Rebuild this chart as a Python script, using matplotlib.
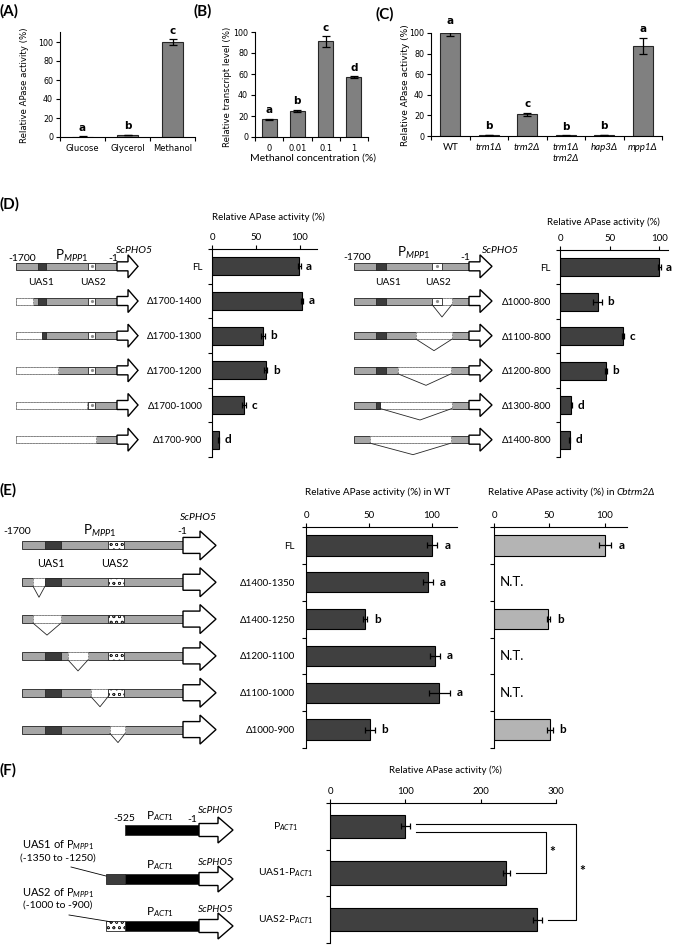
import numpy as np
import matplotlib
matplotlib.use('Agg')
import matplotlib.pyplot as plt
from matplotlib.patches import Rectangle, Polygon
from matplotlib.transforms import blended_transform_factory

W, H = 674, 946
plt.rcParams['font.family'] = ['Lato', 'DejaVu Sans']
plt.rcParams['mathtext.fontset'] = 'custom'
plt.rcParams['mathtext.rm'] = 'Lato'
plt.rcParams['mathtext.it'] = 'Lato:italic'
plt.rcParams['mathtext.bf'] = 'Lato:bold'
plt.rcParams['hatch.linewidth'] = 0.5
plt.rcParams['hatch.color'] = '#303030'

# ---------------- data ----------------
a_cats = ['Glucose', 'Glycerol', 'Methanol']
a_vals = [0.5, 2.0, 100.0]
a_errs = [0.2, 0.3, 3.0]
a_sig = ['a', 'b', 'c']

b_cats = ['0', '0.01', '0.1', '1']
b_vals = [16.8, 24.8, 91.0, 57.2]
b_errs = [0.5, 1.3, 5.0, 0.6]
b_sig = ['a', 'b', 'c', 'd']

c_cats = ['WT', 'trm1Δ', 'trm2Δ', 'trm1Δ\ntrm2Δ', 'hap3Δ', 'mpp1Δ']
c_vals = [100.0, 1.0, 21.0, 0.5, 1.0, 87.5]
c_errs = [3.0, 0.3, 1.8, 0.2, 0.3, 8.0]
c_sig = ['a', 'b', 'c', 'b', 'b', 'a']

d1_labels = ['FL', 'Δ1700-1400', 'Δ1700-1300', 'Δ1700-1200', 'Δ1700-1000', 'Δ1700-900']
d1_vals = [99.5, 102.5, 58.0, 61.0, 36.5, 7.5]
d1_errs = [1.5, 1.5, 2.0, 2.0, 2.0, 0.5]
d1_sig = ['a', 'a', 'b', 'b', 'c', 'd']

d2_labels = ['FL', 'Δ1000-800', 'Δ1100-800', 'Δ1200-800', 'Δ1300-800', 'Δ1400-800']
d2_vals = [100.0, 38.0, 64.0, 46.5, 11.5, 10.0]
d2_errs = [1.5, 4.5, 1.0, 1.0, 0.5, 0.5]
d2_sig = ['a', 'b', 'c', 'b', 'd', 'd']

e_labels = ['FL', 'Δ1400-1350', 'Δ1400-1250', 'Δ1200-1100', 'Δ1100-1000', 'Δ1000-900']
e_wt_vals = [100.5, 97.0, 47.0, 102.5, 106.0, 50.5]
e_wt_errs = [4.0, 4.0, 1.5, 4.0, 8.5, 4.0]
e_wt_sig = ['a', 'a', 'b', 'a', 'a', 'b']
e_cb_vals = [100.5, None, 49.0, None, None, 50.5]   # None = N.T. (not tested)
e_cb_errs = [5.5, None, 1.5, None, None, 2.5]
e_cb_sig = ['a', None, 'b', None, None, 'b']

f_labels = ['P$_{\\mathit{ACT1}}$', 'UAS1-P$_{\\mathit{ACT1}}$', 'UAS2-P$_{\\mathit{ACT1}}$']
f_vals = [100.0, 234.0, 275.0]
f_errs = [6.0, 5.0, 6.0]

# ---------------- figure ----------------
fig = plt.figure(figsize=(W / 100, H / 100), dpi=100)


def px_axes(l, t, r, b):
    return fig.add_axes([l / W, 1 - b / H, (r - l) / W, (b - t) / H])


ov = fig.add_axes([0, 0, 1, 1], zorder=10)
ov.set_xlim(0, W)
ov.set_ylim(H, 0)
ov.axis('off')


def T(x, y, s, size=7.5, ha='center', va='center', **kw):
    ov.text(x, y, s, fontsize=size, ha=ha, va=va, **kw)


VER = 'DejaVu Sans'


def vbar(rect, cats, vals, errs, sig, ylim, yticks, width, xfs, xfam):
    l, t, r, b = rect
    ax = px_axes(l, t, r, b)
    n = len(cats)
    x = np.arange(n)
    ax.bar(x, vals, width, yerr=errs, color='#808080', edgecolor='#262626', linewidth=0.8,
           error_kw=dict(ecolor='black', elinewidth=0.9, capsize=3, capthick=0.9))
    ax.set_xlim(-0.5, n - 0.5)
    ax.set_ylim(*ylim)
    ax.set_yticks(yticks)
    ax.set_xticks(np.arange(n + 1) - 0.5)
    ax.set_xticklabels([])
    ax.set_xticks(x, minor=True)
    ax.set_xticklabels(cats, minor=True, fontsize=xfs, family=xfam)
    ax.tick_params(axis='x', which='major', length=3, width=0.8)
    ax.tick_params(axis='x', which='minor', length=0, pad=5)
    ax.tick_params(axis='y', length=3, width=0.8, labelsize=5.8, pad=2, labelfontfamily=VER)
    for sp in ('top', 'right'):
        ax.spines[sp].set_visible(False)
    for sp in ('left', 'bottom'):
        ax.spines[sp].set_linewidth(0.8)
    for i, (v, e, s) in enumerate(zip(vals, errs, sig)):
        ax.annotate(s, (i, v + e), xytext=(0, 2.5), textcoords='offset points', ha='center',
                    va='bottom', fontsize=7.5, fontweight='bold', family=VER,
                    annotation_clip=False)
    return ax


def hbar(rect, vals, errs, sig, xlim, xticks, color, height, labels=None, lab_pad=7,
         fs=7, sig_off=4):
    l, t, r, b = rect
    ax = px_axes(l, t, r, b)
    n = len(vals)
    idx = [i for i, v in enumerate(vals) if v is not None]
    ax.barh(idx, [vals[i] for i in idx], height=height, xerr=[errs[i] for i in idx],
            color=color, edgecolor='black', linewidth=0.8,
            error_kw=dict(ecolor='black', elinewidth=0.9, capsize=2, capthick=0.9))
    ax.set_ylim(n - 0.5, -0.5)
    ax.set_xlim(*xlim)
    ax.xaxis.tick_top()
    ax.set_xticks(xticks)
    ax.tick_params(axis='x', length=3, width=0.8, labelsize=fs, pad=2)
    ax.set_yticks(np.arange(n + 1) - 0.5)
    ax.set_yticklabels([])
    ax.tick_params(axis='y', which='major', length=3, width=0.8)
    if labels is not None:
        ax.set_yticks(np.arange(n), minor=True)
        ax.set_yticklabels(labels, minor=True)
        ax.tick_params(axis='y', which='minor', length=0, pad=lab_pad, labelsize=fs)
    for sp in ('bottom', 'right'):
        ax.spines[sp].set_visible(False)
    for sp in ('left', 'top'):
        ax.spines[sp].set_linewidth(0.8)
    for i in idx:
        ax.annotate(sig[i], (vals[i] + errs[i], i), xytext=(sig_off, 0), textcoords='offset points',
                    ha='left', va='center', fontsize=8.5, fontweight='bold', annotation_clip=False)
    return ax


# ---------------- (A) (B) (C) ----------------
axA = vbar((60, 32.5, 195, 137), a_cats, a_vals, a_errs, a_sig, (0, 110), range(0, 101, 20), 0.48, 6, VER)
axB = vbar((255, 32, 368, 137), b_cats, b_vals, b_errs, b_sig, (0, 100), range(0, 101, 20), 0.53, 6, VER)
axC = vbar((431, 33, 662, 136), c_cats, c_vals, c_errs, c_sig, (0, 100), range(0, 101, 20), 0.51, 7, 'Lato')
for lbl in axC.get_xticklabels(minor=True):
    if lbl.get_text() != 'WT':
        lbl.set_fontstyle('italic')
    lbl.set_linespacing(1.3)

T(25, 85, 'Relative APase activity (%)', 6.2, rotation=90, family=VER)
T(228, 87, 'Relative transcript level (%)', 6.2, rotation=90, family=VER)
T(405, 85, 'Relative APase activity (%)', 6.5, rotation=90, family=VER)
T(313, 158, 'Methanol concentration (%)', 7.5)

T(0, 11, '(A)', 11, ha='left', weight='bold')
T(193, 11, '(B)', 11, ha='left', weight='bold')
T(376, 14, '(C)', 11, ha='left', weight='bold')
T(0, 204, '(D)', 11, ha='left', weight='bold')
T(0, 490, '(E)', 11, ha='left', weight='bold')
T(0, 770, '(F)', 11, ha='left', weight='bold')

# ---------------- (D) ----------------
axD1 = hbar((212, 249, 317.3, 457), d1_vals, d1_errs, d1_sig, (0, 120), [0, 50, 100], '#404040', 0.52,
            labels=d1_labels, lab_pad=7)
axD2 = hbar((560, 250, 668, 457), d2_vals, d2_errs, d2_sig, (0, 109), [0, 50, 100], '#404040', 0.52,
            labels=d2_labels, lab_pad=6.5)
T(268, 217, 'Relative APase activity (%)', 7)
T(603, 222, 'Relative APase activity (%)', 7)

# ---------------- (E) ----------------
axE1 = hbar((306, 527, 457, 748), e_wt_vals, e_wt_errs, e_wt_sig, (0, 120), [0, 50, 100], '#404040', 0.55,
            labels=e_labels, lab_pad=8, fs=7, sig_off=5)
axE2 = hbar((494, 527, 627, 748), e_cb_vals, e_cb_errs, e_cb_sig, (0, 120), [0, 50, 100], '#b4b4b4', 0.55,
            fs=7, sig_off=5)
for i, v in enumerate(e_cb_vals):
    if v is None:
        axE2.text(5, i, 'N.T.', fontsize=9.5, ha='left', va='center')
T(378, 492, 'Relative APase activity (%) in WT', 7.2)
T(617, 492, 'Relative APase activity (%) in ', 7.2, ha='right')
T(617, 492, 'Cbtrm2Δ', 7.2, ha='left', style='italic')

# ---------------- (F) ----------------
axF = hbar((330, 803, 556, 943), f_vals, f_errs, ['', '', ''], (0, 300), [0, 100, 200, 300], '#404040', 0.5,
           fs=7)
trF = blended_transform_factory(ov.transData, axF.transData)
for i, lab in enumerate(f_labels):
    axF.text(286, i, lab, transform=trF, fontsize=7.5, ha='center', va='center')
T(445, 770, 'Relative APase activity (%)', 7)
# significance brackets
x_in = f_vals[0] + f_errs[0] + 8
x1 = f_vals[1] + f_errs[1] + 8
x2 = f_vals[2] + f_errs[2] + 9
top1 = max(f_vals[:2]) + 53
top2 = max(f_vals) + 52
axF.plot([x_in, top1, top1, x1], [0.13, 0.13, 1.0, 1.0], color='black', lw=0.8, clip_on=False)
axF.plot([x_in, top2, top2, x2], [-0.04, -0.04, 2.0, 2.0], color='black', lw=0.8, clip_on=False)
axF.text(top1 + 8, 0.55, '*', fontsize=10, weight='bold', ha='center', va='center')
axF.text(top2 + 8, 0.95, '*', fontsize=10, weight='bold', ha='center', va='center')


# ---------------- schematics ----------------
def construct(y, x0, x1, h, shaft_x, tip_x, shaft_h, head_h, bar_fc, uas, dels, arrow_lw=1.0):
    ov.add_patch(Rectangle((x0, y - h / 2), x1 - x0, h, fc=bar_fc, ec='#3a3a3a', lw=0.7))
    for d in dels:
        a, b = d[0], d[1]
        ov.add_patch(Rectangle((a, y - h / 2), b - a, h, fc='white', ec='#808080', lw=0.6,
                               ls=(0, (2, 1.5))))
        if len(d) > 2:
            vx, depth = d[2], d[3]
            ov.plot([a, vx, b], [y + h / 2, y + depth, y + h / 2], color='#262626', lw=0.6)
    for a, b, kind in uas:
        if kind == 'dark':
            ov.add_patch(Rectangle((a, y - h / 2), b - a, h, fc='#3c3c3c', ec='#262626', lw=0.6))
        elif kind == 'dot':
            ov.add_patch(Rectangle((a, y - h / 2), b - a, h, fc='white', ec='#262626', lw=0.6))
            ov.plot([(a + b) / 2], [y], 'o', ms=2.3, color='#8c8c8c', mec='none')
        else:
            ov.add_patch(Rectangle((a, y - h / 2), b - a, h, fc='white', ec='#262626', lw=0.6,
                                   hatch='ooo'))
    pts = [(x1, y - shaft_h / 2), (shaft_x, y - shaft_h / 2), (shaft_x, y - head_h / 2), (tip_x, y),
           (shaft_x, y + head_h / 2), (shaft_x, y + shaft_h / 2), (x1, y + shaft_h / 2)]
    ov.add_patch(Polygon(pts, closed=True, fc='white', ec='black', lw=arrow_lw, joinstyle='miter'))


P_MPP1 = 'P$_{\\mathit{MPP1}}$'
P_ACT1 = 'P$_{\\mathit{ACT1}}$'

# D left
rowsD = [249 + (457 - 249) / 6 * (i + 0.5) for i in range(6)]
d1_uas = [
    [(38, 46, 'dark'), (88, 95, 'dot')],
    [(38, 46, 'dark'), (88, 95, 'dot')],
    [(42, 46, 'dark'), (88, 95, 'dot')],
    [(88, 95, 'dot')],
    [(88, 95, 'dot')],
    [],
]
d1_dels = [[], [(16, 33)], [(16, 42)], [(16, 58)], [(16, 87)], [(16, 96)]]
for i, y in enumerate(rowsD):
    construct(y, 16, 117, 7, 128, 138, 9, 23, '#a6a6a6', d1_uas[i], d1_dels[i])
T(22, 258, '-1700', 7.5)
T(72, 256, P_MPP1, 9.5)
T(113, 258, '-1', 7.5)
T(134, 250, 'ScPHO5', 7.5, style='italic')
T(41, 282, 'UAS1', 7.3)
T(93, 282, 'UAS2', 7.3)

# D right
d2_uas = [
    [(376, 386, 'dark'), (432, 442, 'dot')],
    [(376, 386, 'dark'), (432, 442, 'dot')],
    [(376, 386, 'dark')],
    [(376, 386, 'dark')],
    [(376, 380, 'dark')],
    [],
]
d2_dels = [[], [(432, 452, 442, 16)], [(416, 452, 434, 15)], [(398, 451, 426, 15)],
           [(380, 452, 420, 15)], [(370, 451, 413, 15)]]
for i, y in enumerate(rowsD):
    construct(y, 354, 469, 7, 480, 492, 9, 23, '#a6a6a6', d2_uas[i], d2_dels[i])
T(357, 257, '-1700', 7.5)
T(414, 253, P_MPP1, 9.5)
T(465, 257, '-1', 7.5)
T(500, 250, 'ScPHO5', 7.5, style='italic')
T(388, 282, 'UAS1', 7.3)
T(438, 282, 'UAS2', 7.3)

# E
rowsE = [527 + (748 - 527) / 6 * (i + 0.5) for i in range(6)]
e_uas = [
    [(45, 61, 'dark'), (108, 124, 'hatch')],
    [(45, 61, 'dark'), (108, 124, 'hatch')],
    [(108, 124, 'hatch')],
    [(45, 61, 'dark'), (108, 124, 'hatch')],
    [(45, 61, 'dark'), (108, 124, 'hatch')],
    [(45, 61, 'dark')],
]
e_dels = [[], [(33, 45, 39, 15)], [(33, 61, 47, 16)], [(68, 88, 78, 15)], [(91, 108, 100, 14)],
          [(110, 125, 118, 13)]]
for i, y in enumerate(rowsE):
    construct(y, 22, 183, 8, 200, 216, 16, 29, '#a6a6a6', e_uas[i], e_dels[i])
T(17, 531, '-1700', 7.5)
T(100, 531, P_MPP1, 9.5)
T(182, 531, '-1', 7.5)
T(198, 517, 'ScPHO5', 7.5, style='italic')
T(51, 563, 'UAS1', 7.8)
T(115, 563, 'UAS2', 7.8)

# F
rowsF = [830, 879, 926]
f_uas = [[], [(106, 125, 'dark')], [(106, 125, 'hatch')]]
for i, y in enumerate(rowsF):
    construct(y, 125, 199, 10, 218, 233, 13, 26, '#000000', f_uas[i], [])
T(124, 818, '-525', 7.5)
T(160, 816, P_ACT1, 8.5)
T(192, 819, '-1', 7.5)
T(216, 810, 'ScPHO5', 7.2, style='italic')
for y in rowsF[1:]:
    T(160, y - 14, P_ACT1, 8.5)
    T(216, y - 17, 'ScPHO5', 7.2, style='italic')
T(58, 845, 'UAS1 of ' + P_MPP1, 8)
T(58, 858, '(-1350 to -1250)', 7.5)
ov.plot([71, 106], [867, 876], color='black', lw=0.6)
T(58, 893, 'UAS2 of ' + P_MPP1, 8)
T(58, 905, '(-1000 to -900)', 7.5)
ov.plot([69, 112], [915, 922], color='black', lw=0.6)

fig.savefig('out.png', dpi=100)
